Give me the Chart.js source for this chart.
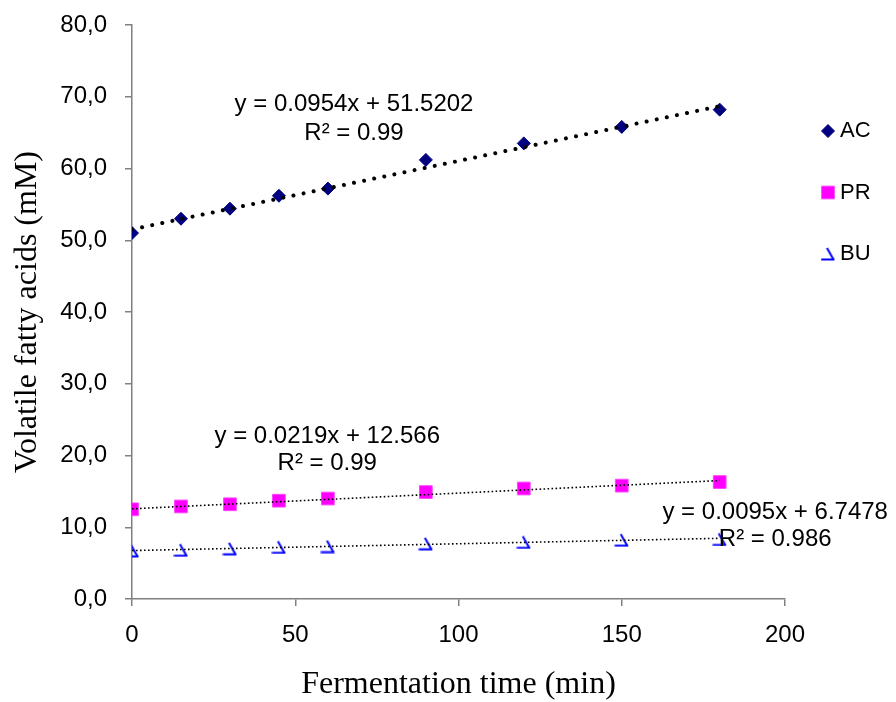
<!DOCTYPE html>
<html>
<head>
<meta charset="utf-8">
<script src="https://cdn.jsdelivr.net/npm/chart.js@4.4.1/dist/chart.umd.min.js"></script>
<style>
  body { margin: 0; background: #fff; }
  #wrap { width: 896px; height: 702px; }
</style>
</head>
<body>
<div id="wrap"><canvas id="vfaChart" width="896" height="702"></canvas></div>
<script>
// fermentation time (min)
var time = [0, 15, 30, 45, 60, 90, 120, 150, 180];
// volatile fatty acids (mM)
var acValues = [51.0, 53.0, 54.4, 56.2, 57.2, 61.2, 63.5, 65.8, 68.2];
var prValues = [12.5, 12.9, 13.2, 13.7, 14.0, 14.9, 15.4, 15.8, 16.3];
var buValues = [6.7, 6.8, 7.0, 7.2, 7.3, 7.7, 7.9, 8.2, 8.3];

// linear trend lines (ends at x = 0 and x = 180)
var trendX = [0, 180];
var acTrend = [51.52, 68.69];
var prTrend = [12.57, 16.51];
var buTrend = [6.75, 8.46];

var seriesNames = ['AC', 'PR', 'BU'];
var acLabel = ['y = 0.0954x + 51.5202', 'R\u00b2 = 0.99'];
var prLabel = ['y = 0.0219x + 12.566', 'R\u00b2 = 0.99'];
var buLabel = ['y = 0.0095x + 6.7478', 'R\u00b2 = 0.986'];

var xTicks = [0, 50, 100, 150, 200];
var yTicks = [0, 10, 20, 30, 40, 50, 60, 70, 80];

function toPoints(xs, ys) {
    return xs.map(function (x, i) { return { x: x, y: ys[i] }; });
}

// the odd half-triangle marker used for BU
function buMarker() {
    var c = document.createElement('canvas');
    c.width = 15;
    c.height = 14;
    var g = c.getContext('2d');
    g.strokeStyle = '#0000ff';
    g.lineWidth = 2;
    g.beginPath();
    g.moveTo(6.5, 1);
    g.lineTo(13, 12.5);
    g.moveTo(0.5, 12.5);
    g.lineTo(14, 12.5);
    g.stroke();
    return c;
}
var buImg = buMarker();

var serif = "'Liberation Serif', 'Times New Roman', serif";
var sans = "'Liberation Sans', Arial, sans-serif";

var equationPlugin = {
    id: 'equations',
    afterDatasetsDraw: function (chart) {
        var ctx = chart.ctx;
        var xs = chart.scales.x, ys = chart.scales.y;
        var items = [
            { text: acLabel, x: 68.0, y: [69.0, 64.9] },
            { text: prLabel, x: 59.8, y: [22.7, 18.9] },
            { text: buLabel, x: 197.0, y: [12.1, 8.3] }
        ];
        ctx.save();
        ctx.fillStyle = '#000';
        ctx.font = '24px ' + sans;
        ctx.textAlign = 'center';
        ctx.textBaseline = 'middle';
        items.forEach(function (it) {
            it.text.forEach(function (t, i) {
                ctx.fillText(t, xs.getPixelForValue(it.x), ys.getPixelForValue(it.y[i]));
            });
        });
        ctx.restore();
    }
};

var legendPlugin = {
    id: 'sideLegend',
    afterDraw: function (chart) {
        var ctx = chart.ctx;
        var top = 131, gap = 61.5;
        ctx.save();
        ctx.font = '22px ' + sans;
        ctx.textAlign = 'left';
        ctx.textBaseline = 'middle';
        [3, 4, 5].forEach(function (di, i) {
            var ds = chart.data.datasets[di];
            var y = top + i * gap;
            ctx.fillStyle = ds.backgroundColor;
            ctx.strokeStyle = ds.borderColor;
            ctx.lineWidth = ds.pointBorderWidth;
            Chart.helpers.drawPoint(ctx, {
                pointStyle: ds.pointStyle,
                radius: ds.pointRadius,
                rotation: 0,
                borderWidth: ds.pointBorderWidth
            }, 828, y);
            ctx.fillStyle = '#000';
            ctx.fillText(seriesNames[i], 840, y);
        });
        ctx.restore();
    }
};

var dotted = { borderColor: '#000', pointRadius: 0, fill: false, showLine: true, order: 0 };

new Chart(document.getElementById('vfaChart'), {
    type: 'scatter',
    data: {
        datasets: [
            Object.assign({}, dotted, {
                label: 'AC trend', data: toPoints(trendX, acTrend),
                borderWidth: 4, borderCapStyle: 'round', borderDash: [0.01, 10.3]
            }),
            Object.assign({}, dotted, {
                label: 'PR trend', data: toPoints(trendX, prTrend),
                borderWidth: 1.6, borderDash: [1.6, 2.4]
            }),
            Object.assign({}, dotted, {
                label: 'BU trend', data: toPoints(trendX, buTrend),
                borderWidth: 1.6, borderDash: [1.6, 2.4]
            }),
            {
                label: 'AC', data: toPoints(time, acValues),
                pointStyle: 'rectRot', pointRadius: 6.5, pointBorderWidth: 1,
                backgroundColor: '#000080', borderColor: '#000080', order: 1
            },
            {
                label: 'PR', data: toPoints(time, prValues),
                pointStyle: 'rect', pointRadius: 9, pointBorderWidth: 1,
                backgroundColor: '#ff00ff', borderColor: '#ff44ff', order: 1
            },
            {
                label: 'BU', data: toPoints(time, buValues),
                pointStyle: buImg, pointRadius: 7, pointBorderWidth: 0,
                backgroundColor: '#0000ff', borderColor: '#0000ff', order: 1
            }
        ]
    },
    options: {
        responsive: false,
        animation: false,
        layout: { padding: { top: 25, right: 111, left: 0, bottom: 0 } },
        plugins: {
            legend: { display: false },
            tooltip: { enabled: false }
        },
        scales: {
            x: {
                type: 'linear',
                min: 0, max: 200,
                afterFit: function (scale) {
                    scale.height = 103;
                    scale.paddingLeft = 0;
                    scale.paddingRight = 0;
                },
                afterBuildTicks: function (scale) {
                    scale.ticks = xTicks.map(function (v) { return { value: v }; });
                },
                border: { display: true, color: '#808080', width: 1.5 },
                grid: { drawOnChartArea: false, drawTicks: true, tickLength: 7, color: '#808080', lineWidth: 1.5 },
                ticks: { color: '#000', font: { family: sans, size: 24 }, padding: 15, maxRotation: 0 },
                title: {
                    display: true, text: 'Fermentation time (min)', color: '#000',
                    font: { family: serif, size: 32, lineHeight: 1 }, padding: { top: 0, bottom: 1 }
                }
            },
            y: {
                type: 'linear',
                min: 0, max: 80,
                afterFit: function (scale) {
                    scale.width = 132;
                    scale.paddingTop = 0;
                    scale.paddingBottom = 0;
                },
                afterBuildTicks: function (scale) {
                    scale.ticks = yTicks.map(function (v) { return { value: v }; });
                },
                border: { display: true, color: '#808080', width: 1.5 },
                grid: { drawOnChartArea: false, drawTicks: true, tickLength: 7, color: '#808080', lineWidth: 1.5 },
                ticks: {
                    color: '#000', font: { family: sans, size: 24 }, padding: 18,
                    callback: function (v) { return v.toFixed(1).replace('.', ','); }
                },
                title: {
                    display: true, text: 'Volatile fatty acids (mM)', color: '#000',
                    font: { family: serif, size: 32, lineHeight: 1 }, padding: { top: 12, bottom: 0 }
                }
            }
        }
    },
    plugins: [equationPlugin, legendPlugin]
});
</script>
</body>
</html>
